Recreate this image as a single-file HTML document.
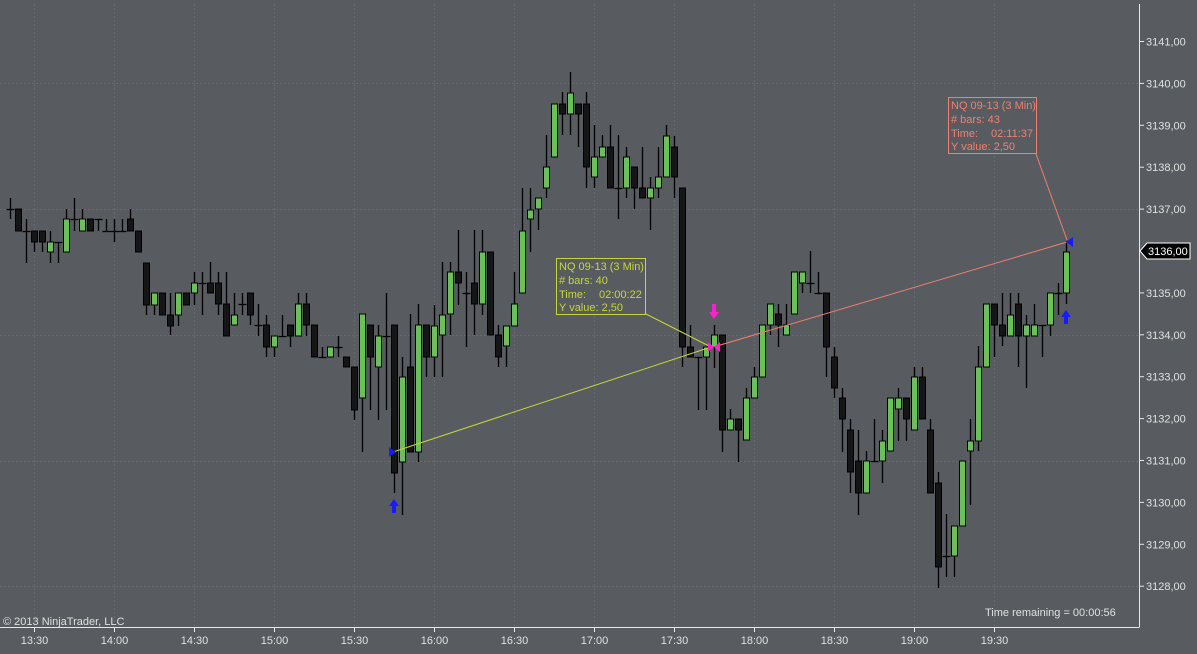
<!DOCTYPE html>
<html><head><meta charset="utf-8"><style>
html,body{margin:0;padding:0;background:#585b5f;}
svg{display:block;font-family:"Liberation Sans",sans-serif;}
</style></head><body>
<svg id="s" width="1197" height="654" xmlns="http://www.w3.org/2000/svg">
<rect width="1197" height="654" fill="#585b5f"/>
<g id="grid" stroke="#676b6f" stroke-width="1" stroke-dasharray="2,2"></g>
<g id="candles"></g>
<g id="overlay">
<line x1="393" y1="452" x2="711" y2="347" stroke="#c8d63a" stroke-width="1"/>
<line x1="646" y1="314" x2="709" y2="346" stroke="#c8d63a" stroke-width="1"/>
<rect x="556.5" y="258.5" width="89" height="56" fill="#585b5f" stroke="#c8d63a"/>
<g fill="#c8d63a" font-size="11">
<text x="559" y="270">NQ 09-13 (3 Min)</text>
<text x="559" y="284"># bars: 40</text>
<text x="559" y="298">Time:</text>
<text x="599" y="298">02:00:22</text>
<text x="559" y="311">Y value: 2,50</text>
</g>
<line x1="717" y1="346" x2="1067" y2="242" stroke="#f08070" stroke-width="1"/>
<line x1="1036" y1="154" x2="1067" y2="240" stroke="#f08070" stroke-width="1"/>
<rect x="948.5" y="97.5" width="88" height="56" fill="#585b5f" stroke="#f08070"/>
<g fill="#f08070" font-size="11">
<text x="951" y="109">NQ 09-13 (3 Min)</text>
<text x="951" y="123"># bars: 43</text>
<text x="951" y="137">Time:</text>
<text x="991" y="137">02:11:37</text>
<text x="951" y="150">Y value: 2,50</text>
</g>
<polygon points="389,447 396,452 389,457" fill="#1a1aff"/>
<polygon points="1073,237 1066,242 1073,247" fill="#1a1aff"/>
<polygon points="708,342 714,347 708,352" fill="#ff20d0"/>
<polygon points="720,342 714,347 720,352" fill="#ff20d0"/>
<path d="M712,304h4v8h3l-5,7l-5,-7h3z" fill="#ff20d0"/>
<path d="M392,513h4v-7h3l-5,-7l-5,7h3z" fill="#1a1aff"/>
<path d="M1064,324h4v-7h3l-5,-7l-5,7h3z" fill="#1a1aff"/>
</g>
<g id="axes" stroke="#e8e8e8" stroke-width="1">
<line x1="1139.5" y1="4" x2="1139.5" y2="627"/>
<line x1="0" y1="627.5" x2="1139.5" y2="627.5"/>
</g>
<g id="labels" fill="#e0e0e0" font-size="11"></g>
<polygon points="1140,251 1147,243 1190,243 1190,259 1147,259" fill="#000" stroke="#fff" stroke-width="1"/>
<text x="1148" y="255" fill="#fff" font-size="11">3136,00</text>
<text x="3" y="625" fill="#e0e0e0" font-size="11">© 2013 NinjaTrader, LLC</text>
<text x="985" y="616" fill="#e0e0e0" font-size="11">Time remaining = 00:00:56</text>
</svg>
<script>
var NS="http://www.w3.org/2000/svg";
function el(p,t,a){var e=document.createElementNS(NS,t);for(var k in a)e.setAttribute(k,a[k]);p.appendChild(e);return e;}
var grid=document.getElementById('grid'),lab=document.getElementById('labels'),ax=document.getElementById('axes');
var times=["13:30","14:00","14:30","15:00","15:30","16:00","16:30","17:00","17:30","18:00","18:30","19:00","19:30"];
for(var i=0;i<13;i++){var x=34+80*i+0.5;el(grid,'line',{x1:x,y1:4,x2:x,y2:627});el(ax,'line',{x1:x,y1:627,x2:x,y2:632});
var t=el(lab,'text',{x:x,y:644,'text-anchor':'middle'});t.textContent=times[i];}
function py(p){return 41.5+(3141-p)*41.9;}
[3140,3137,3134,3131,3128].forEach(function(p){var y=Math.round(py(p))+0.5;el(grid,'line',{x1:0,y1:y,x2:1139,y2:y});});
for(var p=3128;p<=3141;p++){if(p==3136)continue;var y=py(p);el(ax,'line',{x1:1139,y1:y,x2:1144,y2:y});
var t=el(lab,'text',{x:1146,y:y+4});t.textContent=p+",00";}
var D=[
['d',209,209,198,219],['b',209,231],['d',231,231,219,263],['b',231,242,231,252],['b',231,242,231,252],['g',242,252,231,263],['d',242,242,242,263],['g',219,252,209,252],['d',219,219,198,231],['g',219,231,209,231],
['b',219,231],['d',219,219,219,231],['d',231,231,219,231],['d',231,231,219,242],['d',231,231,219,231],['b',219,231,209,231],['b',231,252],['b',263,305,263,315],['g',293,305,293,315],['b',293,315],
['b',315,326,293,335],['g',293,315,293,326],['b',293,305],['g',283,293,272,305],['d',283,283,272,315],['b',283,293,262,293],['b',283,304,272,315],['b',304,336,272,336],['g',315,325,293,325],['d',304,304,293,315],
['b',293,315,293,325],['d',325,325,304,336],['b',325,347,315,357],['g',336,347,336,357],['d',336,336,315,336],['b',325,336,325,347],['g',304,336,293,336],['b',304,325,293,336],['b',325,357],['d',357,357,347,357],
['g',347,357],['d',347,347,336,357],['b',357,367],['b',367,410,367,420],['g',314,398,314,452],['b',325,357,325,410],['g',336,367,325,420],['d',336,336,293,410],['b',325,473,325,493],['g',377,462,357,515],
['b',367,452,314,452],['g',325,452,304,462],['b',325,357,325,377],['g',326,357,305,377],['g',315,335,262,377],['g',272,314,262,335],['b',272,283,230,305],['d',293,293,272,347],['b',283,304,230,335],['g',252,304,230,315],
['b',252,335],['b',335,357,325,367],['g',326,346,326,367],['g',304,326,272,326],['g',231,293,188,293],['g',210,219,188,252],['g',198,209,198,230],['g',167,188,135,198],['g',104,157],['b',104,114,92,135],
['g',93,114,72,135],['b',104,114,104,147],['b',104,167,92,188],['g',157,177,125,188],['g',147,157,135,157],['b',147,188,125,188],['d',188,188,135,219],['g',157,188,147,198],['b',167,188,167,209],['b',188,198,147,198],
['g',188,198,177,230],['g',177,188,147,198],['g',136,177,125,177],['b',147,177,136,198],['b',188,347,188,367],['b',347,357,325,357],['d',357,357,357,410],['g',347,357,347,410],['g',335,347,325,368],['b',335,430,335,452],
['g',419,430,409,430],['b',419,430,419,462],['g',398,440,388,440],['g',377,398,367,398],['g',325,377],['g',304,325,304,335],['b',314,325,304,347],['g',325,335,304,335],['g',272,314],['g',272,283,272,293],
['d',283,283,251,293],['d',293,293,272,293],['b',293,347,293,377],['b',357,388,347,398],['b',398,419,388,452],['b',430,472,419,493],['b',461,493,430,515],['g',461,493,451,493],['d',461,461,419,461],['g',441,461,430,483],
['g',398,451],['g',398,409,388,441],['b',398,419,398,441],['g',377,430,367,430],['b',377,419,367,419],['b',430,493,419,493],['b',483,567,472,588],['d',556,556,514,577],['g',526,556,526,577],['g',461,526],
['g',441,451,419,505],['g',367,441,346,451],['g',304,367],['b',304,325,304,357],['b',325,336,293,346],['g',315,336,293,336],['b',304,336,293,367],['g',325,336,315,388],['g',325,336,304,336],['d',325,325,325,357],
['g',293,325,293,336],['d',293,293,283,315],['g',252,293,241,304]
];
var c=document.getElementById('candles');
D.forEach(function(d,i){var x=10+8*i+0.5;var top=d[1],bot=d[2],h=d.length>3?d[3]:top,l=d.length>3?d[4]:bot;
if(h<top)el(c,'line',{x1:x,y1:h,x2:x,y2:top,stroke:'#000','stroke-width':1.3});
if(l>bot)el(c,'line',{x1:x,y1:bot,x2:x,y2:l,stroke:'#000','stroke-width':1.3});
if(d[0]=='d'){el(c,'line',{x1:x-4,y1:top+0.5,x2:x+4,y2:top+0.5,stroke:'#000','stroke-width':1.3});}
else{el(c,'rect',{x:x-3,y:top,width:6,height:Math.max(1,bot-top),fill:d[0]=='g'?'#6cc05c':'#151515',stroke:'#000','stroke-width':1});}
});
</script>
</body></html>
